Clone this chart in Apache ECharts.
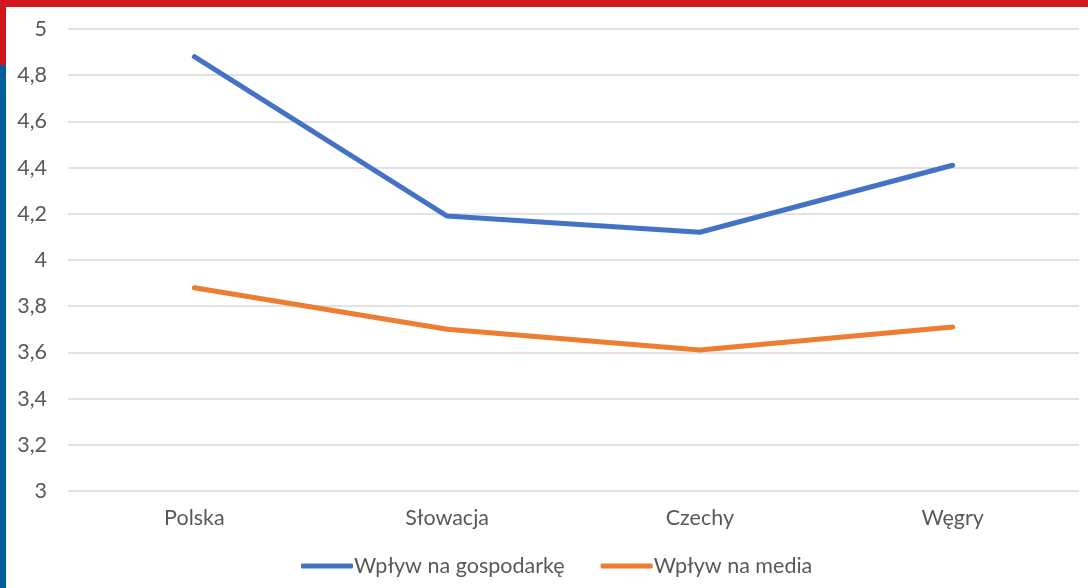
<!DOCTYPE html>
<html><head><meta charset="utf-8">
<script src="https://cdn.jsdelivr.net/npm/echarts@6/dist/echarts.min.js"></script>
<style>html,body{margin:0;padding:0;background:#fff}#c{width:1088px;height:588px}</style>
</head><body><div id="c"></div>
<script>
const categories = ['Polska', 'Słowacja', 'Czechy', 'Węgry'];
const economy = [4.88, 4.19, 4.12, 4.41];
const media = [3.88, 3.70, 3.61, 3.71];
const seriesNames = ['Wpływ na gospodarkę', 'Wpływ na media'];

const chart = echarts.init(document.getElementById('c'));
const font = 'Lato, "Open Sans", sans-serif';
chart.setOption({
  backgroundColor: '#fff',
  animation: false,
  grid: { left: 68, right: 9, top: 29, bottom: 97 },
  graphic: [
    { type: 'rect', shape: { x: 0, y: 0, width: 1088, height: 7 }, style: { fill: '#D0161F' } },
    { type: 'rect', shape: { x: 0, y: 0, width: 6, height: 65 }, style: { fill: '#D0161F' } },
    { type: 'rect', shape: { x: 0, y: 65, width: 6, height: 523 }, style: { fill: '#005D98' } }
  ],
  legend: {
    bottom: 6, left: 296,
    itemWidth: 52, itemHeight: 5, itemGap: 36,
    icon: 'roundRect',
    textStyle: { color: '#595959', fontSize: 21.5, fontFamily: font, padding: [0, 0, 0, -4] },
    data: seriesNames
  },
  xAxis: {
    type: 'category', data: categories, boundaryGap: true,
    axisLine: { show: false }, axisTick: { show: false },
    axisLabel: { color: '#595959', fontSize: 21.5, fontFamily: font, margin: 16 }
  },
  yAxis: {
    type: 'value', min: 3, max: 5, interval: 0.2,
    axisLine: { show: false }, axisTick: { show: false },
    splitLine: { lineStyle: { color: '#D9D9D9', width: 1.5 } },
    axisLabel: { color: '#595959', fontSize: 21.5, fontFamily: font, margin: 21,
      formatter: v => String(Math.round(v * 10) / 10).replace('.', ',') }
  },
  series: [
    { name: seriesNames[0], type: 'line', data: economy, symbol: 'none',
      lineStyle: { color: '#4472C4', width: 5, cap: 'round', join: 'round' }, itemStyle: { color: '#4472C4' } },
    { name: seriesNames[1], type: 'line', data: media, symbol: 'none',
      lineStyle: { color: '#ED7D31', width: 5, cap: 'round', join: 'round' }, itemStyle: { color: '#ED7D31' } }
  ]
});
</script></body></html>
